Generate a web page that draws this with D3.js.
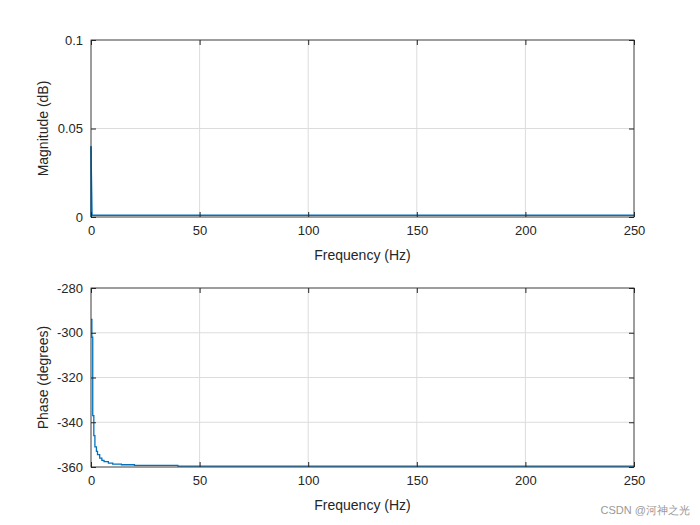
<!DOCTYPE html><html><head><script src="https://cdn.jsdelivr.net/npm/d3@7"></script>
<style>body{margin:0;background:#fff}text{font-family:"Liberation Sans",Arial,sans-serif;fill:#262626}</style></head><body>
<svg id="c" width="700" height="525"></svg>
<script>
const xTicks=[0,50,100,150,200,250];
const magTicks=[0,0.05,0.1];
const phaseTicks=[-360,-340,-320,-300,-280];
const magFreq=[0,0.5,1,250];
const magVals=[0.04,0.001,0.001,0.001];
const phFreq=[0,0.4,0.8,1.3,1.8,2.5,3,4,5,6,8,10,14,20,40,250];
const phVals=[-294,-302,-337,-346,-351,-353,-354.5,-356,-357,-357.6,-358.3,-358.7,-359,-359.3,-359.6,-360];
const svg=d3.select("#c");
const L=91,R=634;
function panel(top,bot,yDom,yTicks,fmt,ylab,fx,fy,stepped){
  const x=d3.scaleLinear().domain([0,250]).range([L,R]);
  const y=d3.scaleLinear().domain(yDom).range([bot,top]);
  const g=svg.append("g");
  g.selectAll(".gx").data(xTicks).join("line").attr("x1",d=>x(d)).attr("x2",d=>x(d)).attr("y1",top).attr("y2",bot).attr("stroke","#dcdcdc");
  g.selectAll(".gy").data(yTicks).join("line").attr("y1",d=>y(d)).attr("y2",d=>y(d)).attr("x1",L).attr("x2",R).attr("stroke","#dcdcdc");
  const line=d3.line().x((d,i)=>x(fx[i])).y(d=>y(d));
  if(stepped) line.curve(d3.curveStepAfter);
  g.append("path").attr("d",line(fy)).attr("fill","none").attr("stroke","#0072BD").attr("stroke-width",1.3);
  if(!stepped) g.append("line").attr("x1",x(0)).attr("x2",x(0)).attr("y1",y(0)).attr("y2",y(fy[0])).attr("stroke","#0072BD").attr("stroke-width",1.3);
  g.append("rect").attr("x",L).attr("y",top).attr("width",R-L).attr("height",bot-top).attr("fill","none").attr("stroke","#262626").attr("stroke-width",0.8);
  const ax=g.append("g").attr("transform",`translate(0,${bot})`).call(d3.axisBottom(x).tickValues(xTicks).tickSize(5).tickSizeInner(-5).tickPadding(9));
  const ay=g.append("g").attr("transform",`translate(${L},0)`).call(d3.axisLeft(y).tickValues(yTicks).tickFormat(fmt).tickSizeInner(-5).tickPadding(8));
  const ax2=g.append("g").attr("transform",`translate(0,${top})`).call(d3.axisTop(x).tickValues(xTicks).tickSizeInner(-5).tickFormat(""));
  const ay2=g.append("g").attr("transform",`translate(${R},0)`).call(d3.axisRight(y).tickValues(yTicks).tickSizeInner(-5).tickFormat(""));
  [ax,ay,ax2,ay2].forEach(a=>{a.select(".domain").remove();a.selectAll("line").attr("stroke","#262626");a.selectAll("text").attr("font-size",13).style("fill","#262626").attr("font-family","Liberation Sans,Arial");});
  g.append("text").attr("x",(L+R)/2).attr("y",bot+43).attr("text-anchor","middle").attr("font-size",14).text("Frequency (Hz)");
  g.append("text").attr("transform",`translate(48,${(top+bot)/2}) rotate(-90)`).attr("text-anchor","middle").attr("font-size",14).text(ylab);
}
panel(40,217,[0,0.1],magTicks,d=>d===0?"0":String(d),"Magnitude (dB)",magFreq,magVals,false);
panel(288,467,[-360,-280],phaseTicks,d=>String(d),"Phase (degrees)",phFreq,phVals,true);
svg.append("text").attr("x",690).attr("y",514).attr("text-anchor","end").attr("font-size",11).style("fill","#999").text("CSDN @河神之光");
</script></body></html>
